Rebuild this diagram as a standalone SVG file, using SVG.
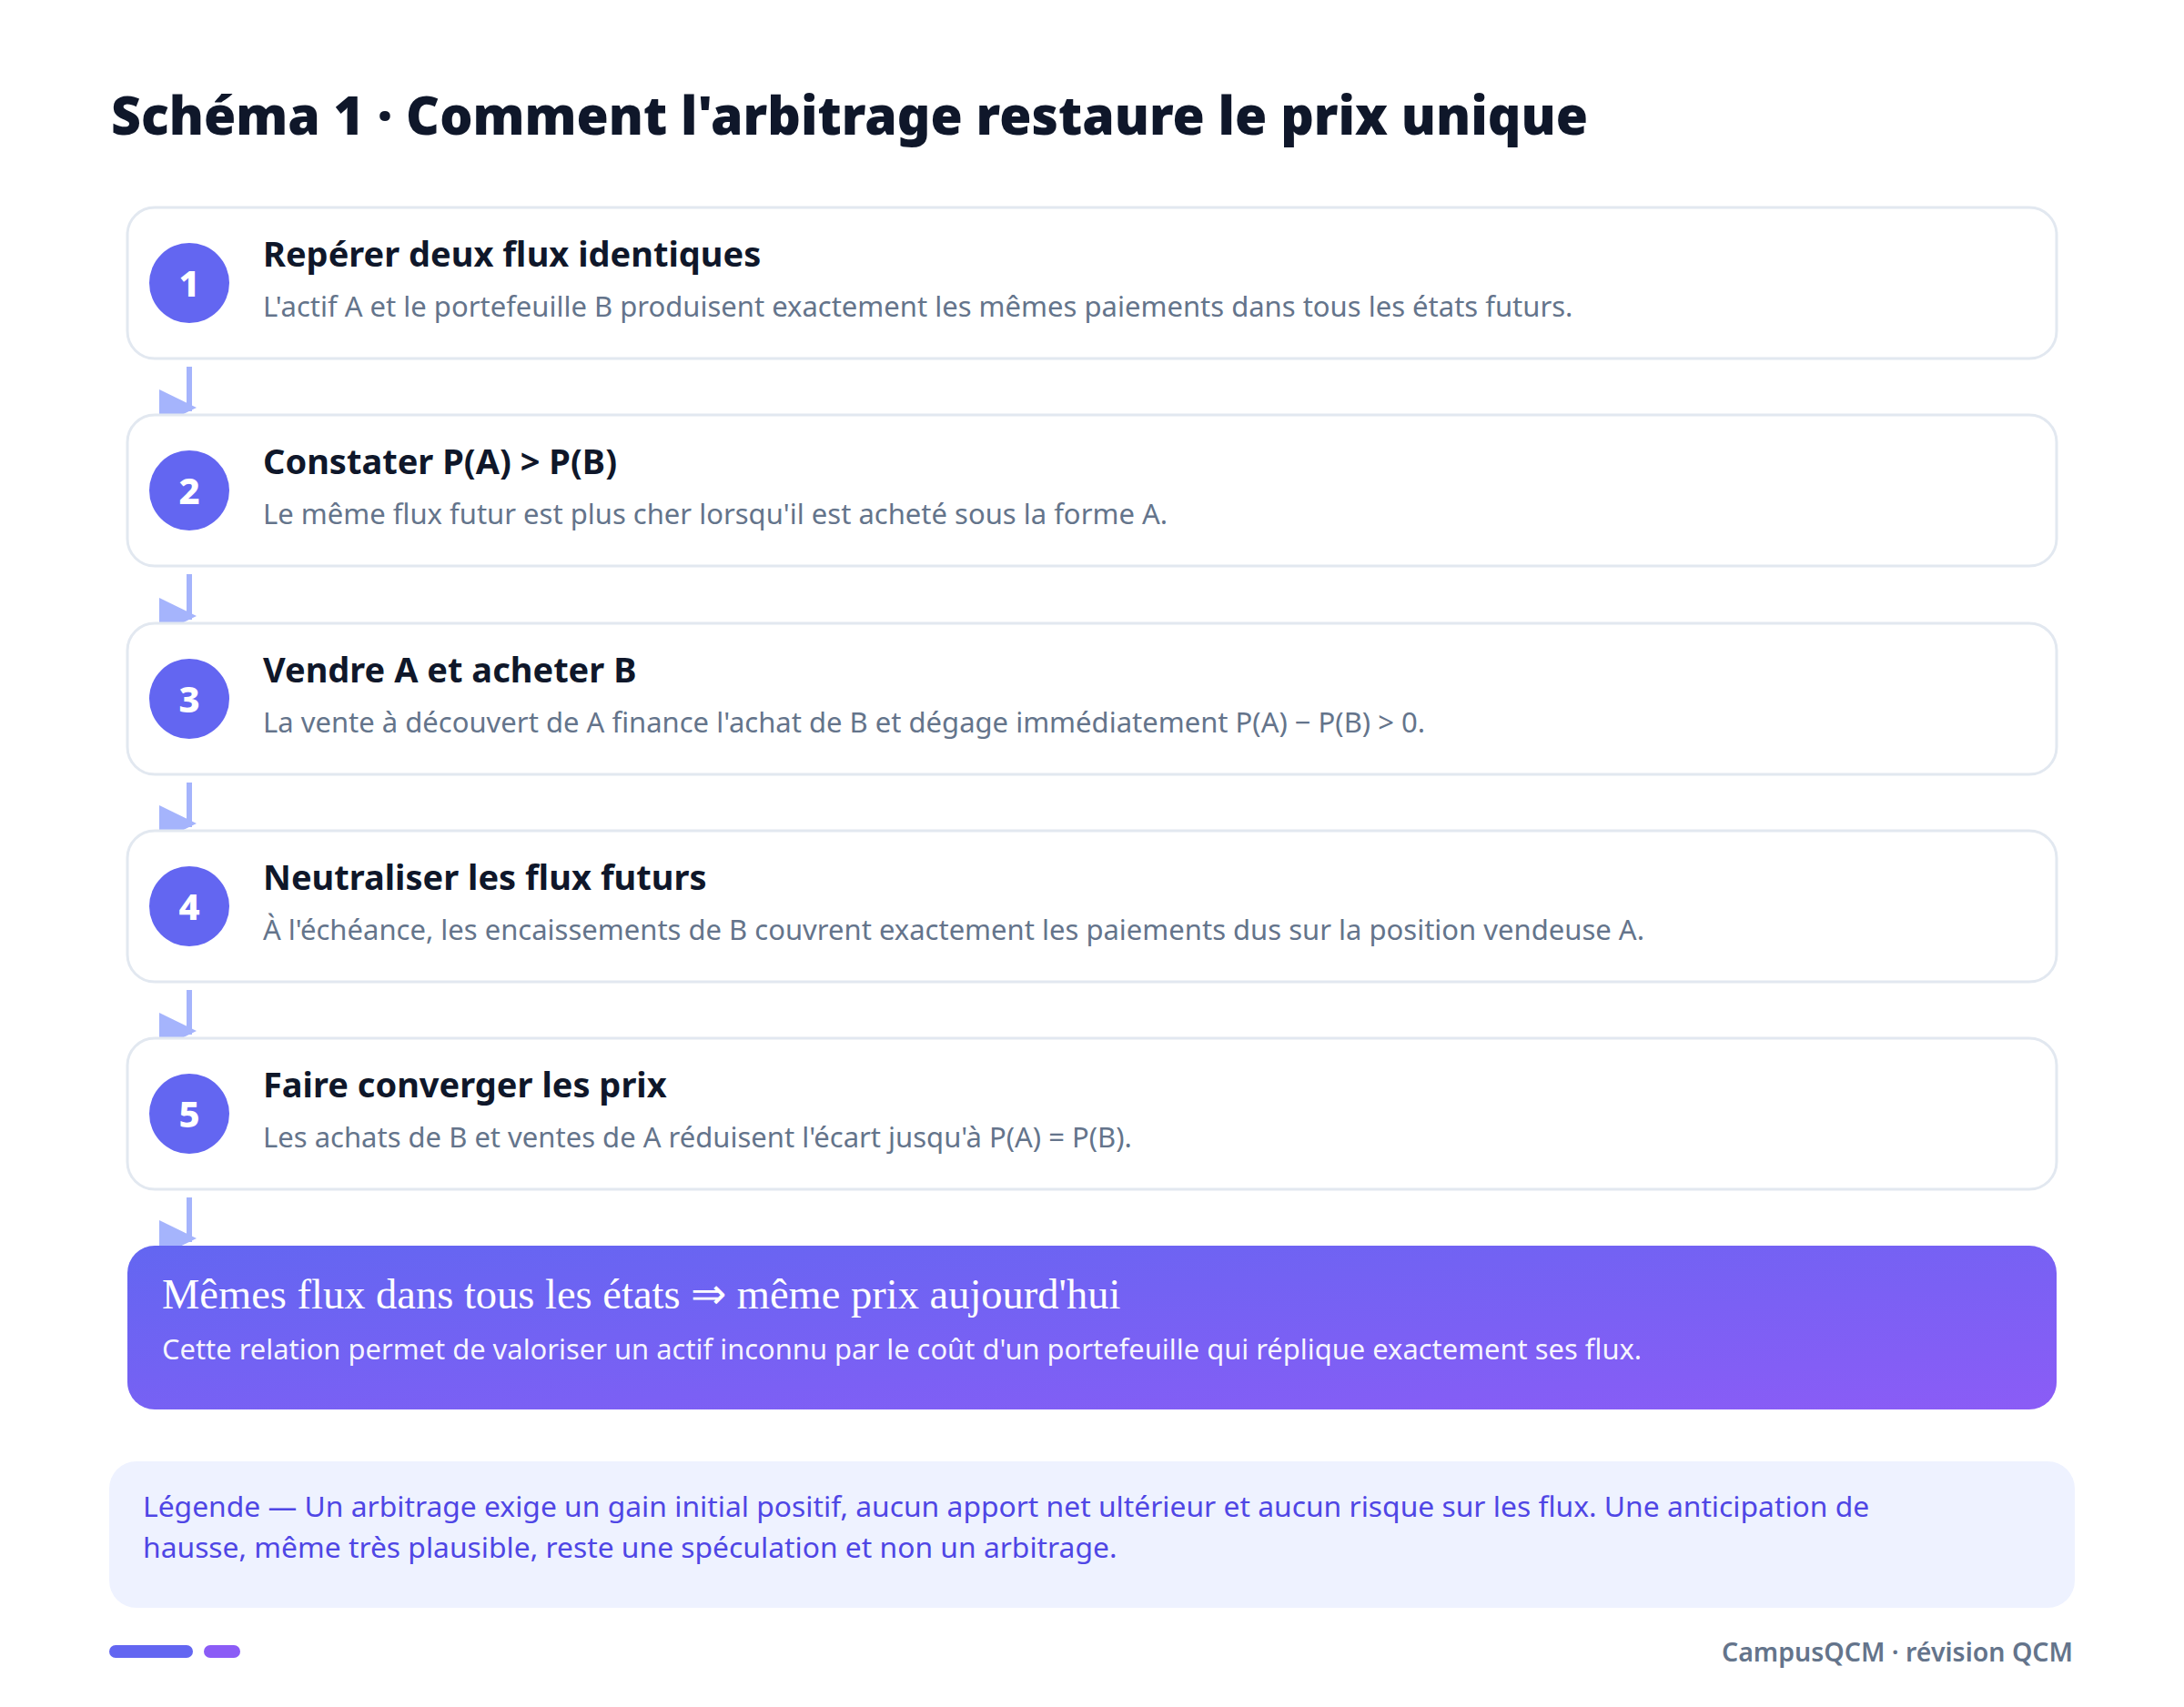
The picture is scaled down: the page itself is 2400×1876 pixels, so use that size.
<svg xmlns="http://www.w3.org/2000/svg" width="2400" height="1876" viewBox="0 0 2400 1876">
<defs>
<linearGradient id="grad" x1="0" y1="0" x2="1" y2="1">
<stop offset="0" stop-color="#6366f1"/>
<stop offset="1" stop-color="#8b5cf6"/>
</linearGradient>
<style>
.card{fill:#ffffff;stroke:#e2e8f0;stroke-width:3}
.num{fill:#6366f1}
.numt{font-family:"Noto Sans","Liberation Sans",sans-serif;font-weight:800;font-size:40px;fill:#ffffff;text-anchor:middle}
.ttl{font-family:"Noto Sans","Liberation Sans",sans-serif;font-weight:700;font-size:38px;fill:#0f172a}
.dsc{font-family:"Noto Sans","Liberation Sans",sans-serif;font-size:31px;fill:#64748b}
.ln{stroke:#a5b4fc;stroke-width:6;fill:none}
.hd{fill:#a5b4fc}
</style>
</defs>
<rect width="2400" height="1876" fill="#ffffff"/>
<text x="122" y="148" font-family="Noto Sans, Liberation Sans, sans-serif" font-weight="900" font-size="59" fill="#0f172a" textLength="1623" lengthAdjust="spacingAndGlyphs">Schéma 1 · Comment l'arbitrage restaure le prix unique</text>
<g id="connectors">
<line class="ln" x1="208" y1="403" x2="208" y2="452"/><polygon class="hd" points="175,428 216,448 175,468"/>
<line class="ln" x1="208" y1="631" x2="208" y2="681"/><polygon class="hd" points="175,657 216,677 175,697"/>
<line class="ln" x1="208" y1="860" x2="208" y2="909"/><polygon class="hd" points="175,885 216,905 175,925"/>
<line class="ln" x1="208" y1="1088" x2="208" y2="1137"/><polygon class="hd" points="175,1113 216,1133 175,1153"/>
<line class="ln" x1="208" y1="1316" x2="208" y2="1365"/><polygon class="hd" points="175,1341 216,1361 175,1381"/>
</g>
<g id="step1">
<rect class="card" x="140" y="228" width="2120" height="166" rx="30"/>
<circle class="num" cx="208" cy="311" r="44"/>
<text class="numt" x="208" y="326">1</text>
<text class="ttl" x="289" y="293">Repérer deux flux identiques</text>
<text class="dsc" x="289" y="348">L'actif A et le portefeuille B produisent exactement les mêmes paiements dans tous les états futurs.</text>
</g>
<g id="step2">
<rect class="card" x="140" y="456" width="2120" height="166" rx="30"/>
<circle class="num" cx="208" cy="539" r="44"/>
<text class="numt" x="208" y="554">2</text>
<text class="ttl" x="289" y="521">Constater P(A) &gt; P(B)</text>
<text class="dsc" x="289" y="576">Le même flux futur est plus cher lorsqu'il est acheté sous la forme A.</text>
</g>
<g id="step3">
<rect class="card" x="140" y="685" width="2120" height="166" rx="30"/>
<circle class="num" cx="208" cy="768" r="44"/>
<text class="numt" x="208" y="783">3</text>
<text class="ttl" x="289" y="750">Vendre A et acheter B</text>
<text class="dsc" x="289" y="805">La vente à découvert de A finance l'achat de B et dégage immédiatement P(A) − P(B) &gt; 0.</text>
</g>
<g id="step4">
<rect class="card" x="140" y="913" width="2120" height="166" rx="30"/>
<circle class="num" cx="208" cy="996" r="44"/>
<text class="numt" x="208" y="1011">4</text>
<text class="ttl" x="289" y="978">Neutraliser les flux futurs</text>
<text class="dsc" x="289" y="1033">À l'échéance, les encaissements de B couvrent exactement les paiements dus sur la position vendeuse A.</text>
</g>
<g id="step5">
<rect class="card" x="140" y="1141" width="2120" height="166" rx="30"/>
<circle class="num" cx="208" cy="1224" r="44"/>
<text class="numt" x="208" y="1239">5</text>
<text class="ttl" x="289" y="1206">Faire converger les prix</text>
<text class="dsc" x="289" y="1261">Les achats de B et ventes de A réduisent l'écart jusqu'à P(A) = P(B).</text>
</g>
<g id="result">
<rect x="140" y="1369" width="2120" height="180" rx="30" fill="url(#grad)"/>
<text x="178" y="1438" font-family="Liberation Serif, serif" font-size="46.5" fill="#ffffff">Mêmes flux dans tous les états ⇒ même prix aujourd'hui</text>
<text x="178" y="1494" font-family="Noto Sans, Liberation Sans, sans-serif" font-size="30.9" fill="#ffffff" fill-opacity="0.95">Cette relation permet de valoriser un actif inconnu par le coût d'un portefeuille qui réplique exactement ses flux.</text>
</g>
<g id="legend">
<rect x="120" y="1606" width="2160" height="161" rx="30" fill="#eef2ff"/>
<text font-family="Noto Sans, Liberation Sans, sans-serif" font-size="31.8" fill="#4f46e5">
<tspan x="157" y="1667">Légende — Un arbitrage exige un gain initial positif, aucun apport net ultérieur et aucun risque sur les flux. Une anticipation de</tspan>
<tspan x="157" y="1712">hausse, même très plausible, reste une spéculation et non un arbitrage.</tspan>
</text>
</g>
<g id="footer">
<rect x="120" y="1808" width="92" height="14" rx="7" fill="#6366f1"/>
<rect x="224" y="1808" width="40" height="14" rx="7" fill="#8b5cf6"/>
<text x="2278" y="1826" text-anchor="end" font-family="Noto Sans, Liberation Sans, sans-serif" font-weight="600" font-size="28.5" fill="#64748b">CampusQCM · révision QCM</text>
</g>
</svg>
